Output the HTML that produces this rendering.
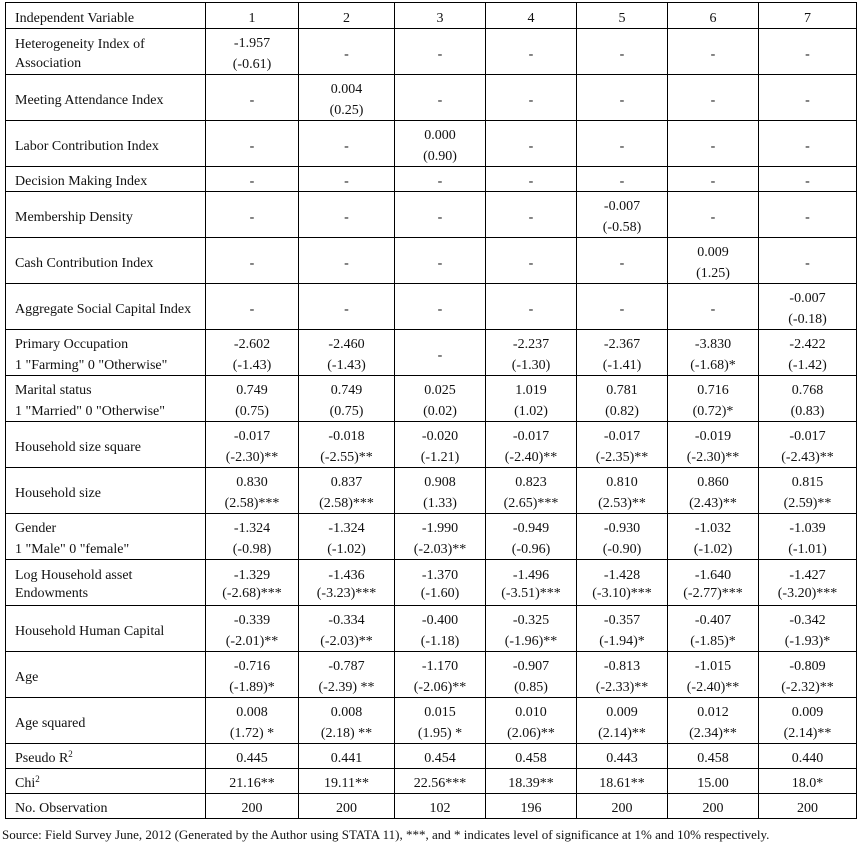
<!DOCTYPE html>
<html><head><meta charset="utf-8"><style>
html,body{margin:0;padding:0;background:#fff;}
body{width:860px;height:847px;position:relative;overflow:hidden;font-family:"Liberation Serif",serif;color:#111;}
.g{position:absolute;left:5px;top:2px;display:grid;background:#000;padding:1px;gap:1px;
grid-template-columns:199px 92px 95px 90px 90px 90px 90px 97px;
grid-template-rows:25px 45px 45px 45px 24px 45px 45px 45px 45px 45px 45px 45px 45px 45px 45px 45px 45px 24px 24px 24px;}
.g div{background:#fff;display:flex;align-items:center;justify-content:center;text-align:center;font-size:14px;line-height:21px;box-sizing:border-box;padding-top:5px;}
.g div.l{justify-content:flex-start;text-align:left;padding-left:9px;line-height:19px;}
sup{font-size:9px;line-height:0;position:relative;top:-5px;vertical-align:baseline;}
.src{position:absolute;left:2px;top:826px;font-size:13px;line-height:18px;white-space:nowrap;color:#111;}
</style></head><body>
<div class="g">
<div class="l">Independent Variable</div><div>1</div><div>2</div><div>3</div><div>4</div><div>5</div><div>6</div><div>7</div>

<div class="l">Heterogeneity Index of<br>Association</div><div>-1.957<br>(-0.61)</div><div>-</div><div>-</div><div>-</div><div>-</div><div>-</div><div>-</div>

<div class="l">Meeting Attendance Index</div><div>-</div><div>0.004<br>(0.25)</div><div>-</div><div>-</div><div>-</div><div>-</div><div>-</div>

<div class="l">Labor Contribution Index</div><div>-</div><div>-</div><div>0.000<br>(0.90)</div><div>-</div><div>-</div><div>-</div><div>-</div>

<div class="l">Decision Making Index</div><div>-</div><div>-</div><div>-</div><div>-</div><div>-</div><div>-</div><div>-</div>

<div class="l">Membership Density</div><div>-</div><div>-</div><div>-</div><div>-</div><div>-0.007<br>(-0.58)</div><div>-</div><div>-</div>

<div class="l">Cash Contribution Index</div><div>-</div><div>-</div><div>-</div><div>-</div><div>-</div><div>0.009<br>(1.25)</div><div>-</div>

<div class="l">Aggregate Social Capital Index</div><div>-</div><div>-</div><div>-</div><div>-</div><div>-</div><div>-</div><div>-0.007<br>(-0.18)</div>

<div class="l" style="line-height:21px">Primary Occupation<br>1 "Farming" 0 "Otherwise"</div><div>-2.602<br>(-1.43)</div><div>-2.460<br>(-1.43)</div><div>-</div><div>-2.237<br>(-1.30)</div><div>-2.367<br>(-1.41)</div><div>-3.830<br>(-1.68)*</div><div>-2.422<br>(-1.42)</div>

<div class="l" style="line-height:21px">Marital status<br>1 "Married" 0 "Otherwise"</div><div>0.749<br>(0.75)</div><div>0.749<br>(0.75)</div><div>0.025<br>(0.02)</div><div>1.019<br>(1.02)</div><div>0.781<br>(0.82)</div><div>0.716<br>(0.72)*</div><div>0.768<br>(0.83)</div>

<div class="l">Household size square</div><div>-0.017<br>(-2.30)**</div><div>-0.018<br>(-2.55)**</div><div>-0.020<br>(-1.21)</div><div>-0.017<br>(-2.40)**</div><div>-0.017<br>(-2.35)**</div><div>-0.019<br>(-2.30)**</div><div>-0.017<br>(-2.43)**</div>

<div class="l">Household size</div><div>0.830<br>(2.58)***</div><div>0.837<br>(2.58)***</div><div>0.908<br>(1.33)</div><div>0.823<br>(2.65)***</div><div>0.810<br>(2.53)**</div><div>0.860<br>(2.43)**</div><div>0.815<br>(2.59)**</div>

<div class="l" style="line-height:21px">Gender<br>1 "Male" 0 "female"</div><div>-1.324<br>(-0.98)</div><div>-1.324<br>(-1.02)</div><div>-1.990<br>(-2.03)**</div><div>-0.949<br>(-0.96)</div><div>-0.930<br>(-0.90)</div><div>-1.032<br>(-1.02)</div><div>-1.039<br>(-1.01)</div>

<div class="l" style="line-height:18px">Log Household asset<br>Endowments</div><div style="line-height:18px">-1.329<br>(-2.68)***</div><div style="line-height:18px">-1.436<br>(-3.23)***</div><div style="line-height:18px">-1.370<br>(-1.60)</div><div style="line-height:18px">-1.496<br>(-3.51)***</div><div style="line-height:18px">-1.428<br>(-3.10)***</div><div style="line-height:18px">-1.640<br>(-2.77)***</div><div style="line-height:18px">-1.427<br>(-3.20)***</div>

<div class="l">Household Human Capital</div><div>-0.339<br>(-2.01)**</div><div>-0.334<br>(-2.03)**</div><div>-0.400<br>(-1.18)</div><div>-0.325<br>(-1.96)**</div><div>-0.357<br>(-1.94)*</div><div>-0.407<br>(-1.85)*</div><div>-0.342<br>(-1.93)*</div>

<div class="l">Age</div><div>-0.716<br>(-1.89)*</div><div>-0.787<br>(-2.39) **</div><div>-1.170<br>(-2.06)**</div><div>-0.907<br>(0.85)</div><div>-0.813<br>(-2.33)**</div><div>-1.015<br>(-2.40)**</div><div>-0.809<br>(-2.32)**</div>

<div class="l">Age squared</div><div>0.008<br>(1.72) *</div><div>0.008<br>(2.18) **</div><div>0.015<br>(1.95) *</div><div>0.010<br>(2.06)**</div><div>0.009<br>(2.14)**</div><div>0.012<br>(2.34)**</div><div>0.009<br>(2.14)**</div>

<div class="l">Pseudo R<sup>2</sup></div><div>0.445</div><div>0.441</div><div>0.454</div><div>0.458</div><div>0.443</div><div>0.458</div><div>0.440</div>

<div class="l">Chi<sup>2</sup></div><div>21.16**</div><div>19.11**</div><div>22.56***</div><div>18.39**</div><div>18.61**</div><div>15.00</div><div>18.0*</div>

<div class="l">No. Observation</div><div>200</div><div>200</div><div>102</div><div>196</div><div>200</div><div>200</div><div>200</div>
</div>
<div class="src">Source: Field Survey June, 2012 (Generated by the Author using STATA 11), ***, and * indicates level of significance at 1% and 10% respectively.</div>
</body></html>
